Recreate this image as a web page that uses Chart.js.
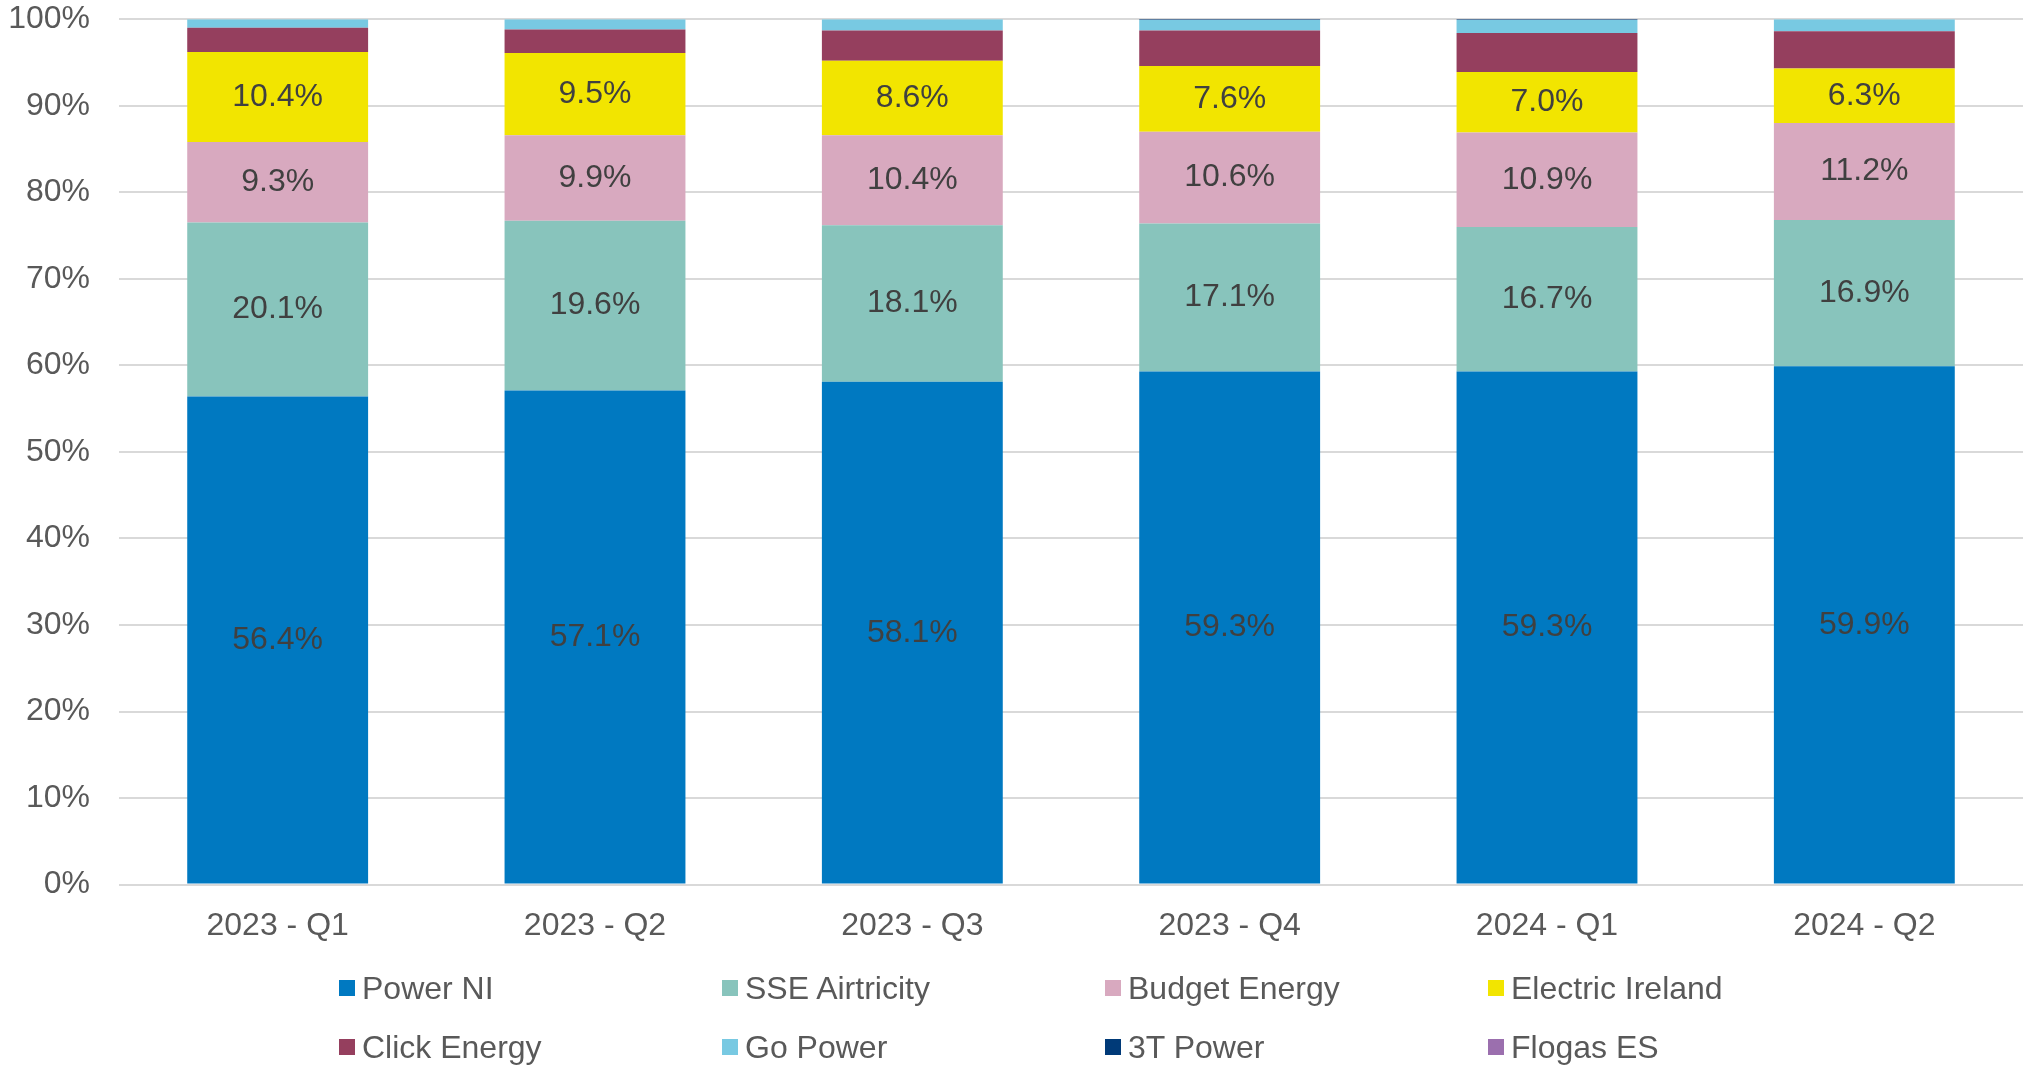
<!DOCTYPE html>
<html>
<head>
<meta charset="utf-8">
<script src="https://cdn.jsdelivr.net/npm/chart.js@4"></script>
<style>
    html, body { margin: 0; padding: 0; background: #fff; }
    #wrap { position: relative; width: 2027px; height: 1066px; }
    #legend { position: absolute; left: 0; top: 0; width: 2027px; height: 1066px; pointer-events: none; }
    .item { position: absolute; display: flex; align-items: center; height: 40px;
            font-family: "Liberation Sans", Arial, sans-serif; font-size: 32px; color: #595959; white-space: nowrap; }
    .box { width: 16px; height: 16px; margin-right: 7px; }
</style>
</head>
<body>
<div id="wrap">
    <canvas id="chartCanvas" width="2027" height="1066"></canvas>
    <div id="legend"></div>
</div>
<script>
// Quarters on the x axis
const quarters = ['2023 - Q1', '2023 - Q2', '2023 - Q3', '2023 - Q4', '2024 - Q1', '2024 - Q2'];

// Market share per supplier (%)
const powerNI        = [56.4, 57.1, 58.1, 59.3, 59.3, 59.9];
const sseAirtricity  = [20.1, 19.6, 18.1, 17.1, 16.7, 16.9];
const budgetEnergy   = [9.3, 9.9, 10.4, 10.6, 10.9, 11.2];
const electricIreland = [10.4, 9.5, 8.6, 7.6, 7.0, 6.3];
const clickEnergy    = [2.8, 2.7, 3.5, 4.1, 4.5, 4.3];
const goPower        = [1.0, 1.2, 1.3, 1.2, 1.5, 1.4];
const threeTPower    = [0, 0, 0, 0.1, 0.1, 0];
const flogasES       = [0, 0, 0, 0, 0, 0];

const yTicks = [0, 10, 20, 30, 40, 50, 60, 70, 80, 90, 100];

const FONT = '"Liberation Sans", Arial, sans-serif';
const labelledSeries = 4; // only the first four series carry value labels

const series = [
    { label: 'Power NI', data: powerNI, color: '#0079C1' },
    { label: 'SSE Airtricity', data: sseAirtricity, color: '#88C4BC' },
    { label: 'Budget Energy', data: budgetEnergy, color: '#D8A9BF' },
    { label: 'Electric Ireland', data: electricIreland, color: '#F2E500' },
    { label: 'Click Energy', data: clickEnergy, color: '#953F5E' },
    { label: 'Go Power', data: goPower, color: '#78C9E2' },
    { label: '3T Power', data: threeTPower, color: '#003A78' },
    { label: 'Flogas ES', data: flogasES, color: '#9B6FAE' }
];

// Draw value labels in the middle of each segment
const segmentLabels = {
    id: 'segmentLabels',
    afterDatasetsDraw(chart) {
        const ctx = chart.ctx;
        ctx.save();
        ctx.font = '32px ' + FONT;
        ctx.fillStyle = '#404040';
        ctx.textAlign = 'center';
        ctx.textBaseline = 'middle';
        chart.data.datasets.forEach((ds, i) => {
            if (i >= labelledSeries) return;
            chart.getDatasetMeta(i).data.forEach((bar, j) => {
                const v = ds.data[j];
                const y = (bar.y + bar.base) / 2;
                ctx.fillText(v.toFixed(1) + '%', bar.x, y);
            });
        });
        ctx.restore();
    }
};

const chart = new Chart(document.getElementById('chartCanvas'), {
    type: 'bar',
    data: {
        labels: quarters,
        datasets: series.map(s => ({
            label: s.label,
            data: s.data,
            backgroundColor: s.color,
            borderWidth: 0,
            categoryPercentage: 1,
            barPercentage: 0.57
        }))
    },
    options: {
        responsive: false,
        animation: false,
        layout: { padding: { top: 0, right: 4, bottom: 99, left: 0 } },
        plugins: {
            legend: { display: false },
            tooltip: { enabled: false }
        },
        scales: {
            x: {
                stacked: true,
                grid: { display: false, drawTicks: false },
                border: { display: false },
                ticks: { color: '#595959', font: { family: FONT, size: 32 }, padding: 22, maxRotation: 0 }
            },
            y: {
                stacked: true,
                min: 0,
                max: 100,
                afterFit(axis) { axis.width = 119; },
                afterBuildTicks(axis) { axis.ticks = yTicks.map(v => ({ value: v })); },
                // tick marks are invisible; their length only spaces the labels off the plot
                grid: { color: '#D9D9D9', lineWidth: 2, drawTicks: true, tickLength: 29, tickColor: 'rgba(0,0,0,0)' },
                border: { display: false },
                ticks: {
                    color: '#595959',
                    font: { family: FONT, size: 32 },
                    padding: 0,
                    callback: v => v + '%'
                }
            }
        }
    },
    plugins: [segmentLabels]
});

// HTML legend laid out in four columns, like the original
const legendEl = document.getElementById('legend');
chart.data.datasets.forEach((ds, i) => {
    const item = document.createElement('div');
    item.className = 'item';
    item.style.left = (339 + (i % 4) * 383) + 'px';
    item.style.top = ((i < 4 ? 988 : 1047) - 20) + 'px';
    const box = document.createElement('span');
    box.className = 'box';
    box.style.background = ds.backgroundColor;
    const txt = document.createElement('span');
    txt.textContent = ds.label;
    item.appendChild(box);
    item.appendChild(txt);
    legendEl.appendChild(item);
});
</script>
</body>
</html>
